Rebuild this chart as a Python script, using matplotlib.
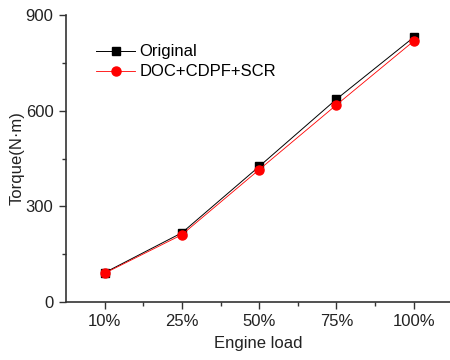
import numpy as np
import matplotlib.pyplot as plt
from matplotlib.ticker import MultipleLocator, FixedLocator

plt.rcParams['font.family'] = ['Liberation Sans', 'DejaVu Sans']

loads = ['10%', '25%', '50%', '75%', '100%']
original = [92, 217, 425, 636, 830]
after_treat = [90, 211, 415, 618, 818]

fig = plt.figure(figsize=(4.5, 3.6), dpi=100)
ax = fig.add_axes([66 / 450, 58 / 360, 384 / 450, 287 / 360])

x = np.arange(len(loads))
ax.plot(x, original, '-', color='black', lw=0.7, marker='s', ms=5.5,
        label='Original')
ax.plot(x, after_treat, '-', color='red', lw=0.6, marker='o', ms=6.5,
        label='DOC+CDPF+SCR')

ax.set_xlim(-0.5, 4.47)
ax.set_ylim(0, 900)
ax.set_xticks(x)
ax.set_xticklabels(loads)
ax.xaxis.set_minor_locator(FixedLocator(x[:-1] + 0.5))
ax.yaxis.set_major_locator(MultipleLocator(300))
ax.yaxis.set_minor_locator(MultipleLocator(150))

for s in ['top', 'right']:
    ax.spines[s].set_visible(False)
for s in ['left', 'bottom']:
    ax.spines[s].set_color('#333333')
    ax.spines[s].set_linewidth(1.2)

ax.tick_params(which='major', direction='out', length=5, width=1, colors='#333333',
               labelsize=12, labelcolor='#222222', pad=4)
ax.tick_params(which='minor', direction='out', length=3, width=1, colors='#333333')

ax.set_xlabel('Engine load', fontsize=12, color='#222222', labelpad=5)
ax.set_ylabel('Torque(N·m)', fontsize=12, color='#222222', labelpad=1)

ax.legend(loc='upper left', bbox_to_anchor=(0.04, 0.95), frameon=False,
          fontsize=12, handlelength=2.3, handletextpad=0.3, labelspacing=0.3)

fig.savefig('out.png', dpi=100)
